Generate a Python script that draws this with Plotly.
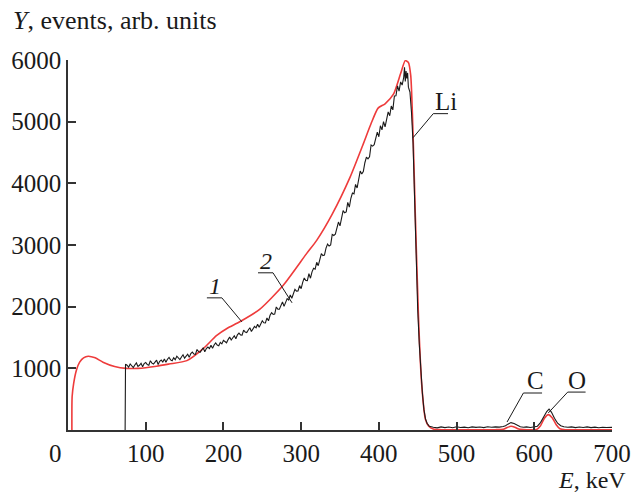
import plotly.graph_objects as go

# Curve 1: model (red)
model_E = [5, 5.3, 7.3, 10.8, 15, 20, 26, 35, 45, 60, 75, 90, 114, 130, 153, 174, 191, 205, 221, 247,
           277, 307, 320, 340, 363, 380, 390, 399, 408, 419, 428, 434, 438, 441, 444, 447, 451, 455,
           460, 464, 470, 480, 550, 560, 565, 570, 575, 580, 590, 603, 608, 613, 618, 623, 628, 633,
           640, 700]
model_Y = [0, 540, 758, 970, 1100, 1170, 1197, 1170, 1100, 1030, 1000, 1000, 1035, 1070, 1125, 1320,
           1530, 1650, 1755, 1960, 2347, 2860, 3075, 3500, 4100, 4640, 4970, 5220, 5290, 5450, 5780,
           5990, 5960, 5750, 4800, 3450, 1830, 760, 170, 65, 15, 5, 5, 12, 40, 60, 45, 15, 5, 10, 70,
           190, 250, 200, 90, 20, 5, 5]

exp_E = ([73.5] + list(range(74, 432, 2)) +
         [432, 433, 434, 435, 436, 437, 438, 440, 442, 444, 446, 448, 450, 452, 454, 456, 458, 460,
          462, 465, 470, 475, 480, 485, 490, 495, 500, 505, 510, 515, 520, 525, 530, 535, 540, 545,
          550, 555, 560, 563, 566, 570, 574, 578, 582, 586, 590, 595, 600, 604, 608, 612, 616, 619,
          622, 626, 630, 634, 638, 643, 648, 653, 658, 663, 668, 673, 678, 683, 688, 693, 698, 700])
exp_Y = [0, 1065,
         # 76 .. 98
         1050, 1018, 1071, 1044, 1012, 1055, 1088, 1031, 1049, 1082, 1025, 1078,
         # 100 .. 148
         1095, 1060, 1050, 1124, 1084, 1069, 1104, 1134, 1063, 1113, 1133, 1103, 1153, 1097, 1147,
         1177, 1137, 1122, 1171, 1141, 1196, 1171, 1141, 1185, 1220,
         # 150 .. 198
         1165, 1189, 1229, 1178, 1238, 1262, 1231, 1226, 1305, 1270, 1259, 1298, 1333, 1267, 1322,
         1346, 1320, 1375, 1324, 1379, 1413, 1377, 1367, 1421, 1396,
         # 200 .. 248
         1455, 1437, 1414, 1466, 1508, 1460, 1487, 1529, 1481, 1543, 1570, 1542, 1539, 1621, 1588,
         1580, 1622, 1659, 1596, 1653, 1680, 1657, 1714, 1666, 1723,
         # 250 .. 298
         1772, 1738, 1736, 1818, 1770, 1860, 1903, 1875, 1880, 1995, 1960, 1958, 2021, 2078, 2004,
         2086, 2130, 2108, 2191, 2137, 2220, 2281, 2252, 2255, 2342,
         # 300 .. 348
         2292, 2395, 2466, 2424, 2423, 2534, 2461, 2564, 2622, 2607, 2720, 2665, 2778, 2859, 2828,
         2837, 2950, 3015, 2984, 3001, 3172, 3154, 3176, 3278, 3372,
         # 350 .. 398
         3310, 3454, 3558, 3522, 3536, 3690, 3614, 3758, 3842, 3830, 3982, 3924, 4076, 4198, 4150,
         4192, 4334, 4426, 4398, 4430, 4622, 4604, 4626, 4740, 4830,
         # 400 .. 430
         4756, 4933, 4868, 5001, 4914, 5047, 5158, 5096, 5254, 5192, 5416, 5420, 5579, 5496, 5644,
         5594,
         # 432 ..
         5720, 5880, 5650, 5820, 5700, 5790, 5560, 5480, 5150, 4650, 3600, 2700, 1950, 1400, 950,
         600, 330, 180, 110, 60, 45, 35, 50, 38, 48, 36, 52, 40, 47, 37, 50, 42, 48, 38, 52, 44, 50,
         46, 58, 70, 95, 120, 105, 75, 52, 45, 50, 40, 48, 62, 120, 220, 300, 340, 290, 190, 110, 70,
         52, 45, 50, 38, 48, 40, 50, 38, 47, 36, 45, 40, 48, 42]

x_ticks = [100, 200, 300, 400, 500, 600, 700]
y_ticks = [1000, 2000, 3000, 4000, 5000, 6000]

FONT = "Liberation Serif, Times New Roman, serif"
INK = "#1a1a1a"
PW, PH = 544, 370  # plot area size in px

fig = go.Figure()
fig.add_trace(go.Scatter(x=model_E, y=model_Y, mode="lines",
                         line=dict(color="#ee3b3b", width=1.6, shape="spline", smoothing=0.6),
                         showlegend=False, hoverinfo="skip"))
fig.add_trace(go.Scatter(x=exp_E, y=exp_Y, mode="lines",
                         line=dict(color=INK, width=1.1),
                         showlegend=False, hoverinfo="skip"))

# leader lines (underline + pointer) for the curve labels
leaders = [
    ([178.7, 198, 223.8], [2143, 2143, 1753]),
    ([244.5, 263.8, 288.3], [2549, 2549, 2062]),
    ([489, 470, 444], [5130, 5130, 4740]),
    ([610, 586, 565], [600, 600, 130]),
    ([666, 643, 618], [615, 615, 276]),
]
for lx, ly in leaders:
    fig.add_trace(go.Scatter(x=lx, y=ly, mode="lines", line=dict(color=INK, width=1),
                             showlegend=False, hoverinfo="skip"))

labels = [
    (189, 2340, "<i>1</i>", 24),
    (255, 2740, "<i>2</i>", 24),
    (486, 5330, "Li", 25),
    (601, 800, "C", 25),
    (655, 800, "O", 25),
]
for lx, ly, t, fs in labels:
    fig.add_annotation(x=lx, y=ly, text=t, showarrow=False, xref="x", yref="y",
                       font=dict(family=FONT, size=fs, color=INK))

fig.add_annotation(x=(12 - 68) / PW, y=1 + (60 - 20) / PH, xref="paper", yref="paper",
                   text="<i>Y</i>, events, arb. units", showarrow=False, borderpad=0,
                   xanchor="left", yanchor="middle", font=dict(family=FONT, size=26, color=INK))
fig.add_annotation(x=(55 - 68) / PW, y=-(453 - 430) / PH, xref="paper", yref="paper", text="0",
                   showarrow=False, xanchor="center", yanchor="middle",
                   font=dict(family=FONT, size=25, color=INK))
fig.add_annotation(x=(627 - 68) / PW, y=-(494 - 430) / PH, xref="paper", yref="paper",
                   text="<i>E</i>, keV", showarrow=False, xanchor="right", yanchor="bottom",
                   borderpad=0, font=dict(family=FONT, size=24, color=INK))

axis_style = dict(ticks="inside", ticklen=8, tickcolor="#333", tickwidth=1.5,
                  showline=True, linecolor="#333", linewidth=1.5, showgrid=False,
                  zeroline=False, automargin=False, tickfont=dict(family=FONT, size=25, color=INK))

fig.update_layout(
    width=633, height=495,
    margin=dict(l=68, r=21, t=60, b=65),
    paper_bgcolor="white", plot_bgcolor="white",
    font=dict(family=FONT, size=25, color=INK),
    xaxis=dict(range=[0, 700], tickvals=x_ticks, ticktext=[str(v) for v in x_ticks], **axis_style),
    yaxis=dict(range=[0, 6000], tickvals=y_ticks, ticktext=[str(v) for v in y_ticks], **axis_style),
)

# remove the default page margin so the figure fills the window exactly
fig.write_html("out.html", config={"displayModeBar": False},
               post_script="document.body.style.margin='0';document.body.style.overflow='hidden';")
